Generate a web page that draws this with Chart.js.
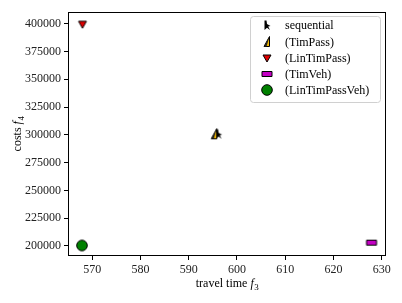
<!DOCTYPE html>
<html><head><meta charset="utf-8">
<script src="https://cdn.jsdelivr.net/npm/chart.js@4"></script>
<style>html,body{margin:0;padding:0;background:#fff}</style>
</head><body>
<canvas id="c" width="402" height="303" style="width:402px;height:303px"></canvas>
<script>
const seriesLabels = ['sequential', '(TimPass)', '(LinTimPass)', '(TimVeh)', '(LinTimPassVeh)'];
const travelTime = [596.2, 595.3, 568.0, 627.9, 567.9];
const costs = [301000, 300500, 399500, 203000, 200500];
const xTicks = [570, 580, 590, 600, 610, 620, 630];
const yTicks = [200000, 225000, 250000, 275000, 300000, 325000, 350000, 375000, 400000];
const xTitle = ['travel time ', 'f', '3'];
const yTitle = ['costs ', 'f', '4'];

const FONT = '"Liberation Serif", "Times New Roman", serif';

function mk(w, h, draw) {
  const c = document.createElement('canvas');
  c.width = w; c.height = h;
  const g = c.getContext('2d');
  g.translate(w / 2, h / 2);
  g.lineWidth = 1; g.strokeStyle = '#000'; g.lineJoin = 'miter';
  draw(g);
  return c;
}
function poly(g, pts) {
  g.beginPath();
  pts.forEach((p, i) => i ? g.lineTo(p[0], p[1]) : g.moveTo(p[0], p[1]));
  g.closePath();
}
const markers = [
  mk(12, 14, g => { poly(g, [[-2.5, -4.5], [-0.5, -4.5], [0, -1], [3.5, 1], [1.2, 1.5], [3, 5], [0, 2.8], [-2.5, 5]]); g.fillStyle = '#000'; g.fill(); }),
  mk(12, 14, g => { poly(g, [[-3, 4.5], [2.5, -5.5], [2.5, 4.5]]); g.fillStyle = '#f2b600'; g.fill(); g.stroke(); poly(g, [[-3, 4.5], [2.5, -5.5], [-0.5, 4.5]]); g.fillStyle = '#222'; g.fill(); }),
  mk(12, 12, g => { poly(g, [[-4, -3], [4, -3], [0, 4]]); g.fillStyle = '#e00000'; g.fill(); g.stroke(); }),
  mk(14, 10, g => { g.beginPath(); g.rect(-5, -2.5, 10, 5); g.fillStyle = '#c400c4'; g.fill(); g.stroke(); }),
  mk(14, 14, g => { g.beginPath(); g.arc(0, 0, 5.3, 0, Math.PI * 2); g.fillStyle = '#008000'; g.fill(); g.stroke(); })
];

const datasets = seriesLabels.map((lab, i) => ({
  label: lab,
  data: [{ x: travelTime[i], y: costs[i] }],
  pointStyle: markers[i],
  pointRadius: 6,
  pointHoverRadius: 6,
  order: seriesLabels.length - i
}));

function drawMath(ctx, parts, x, y, rot) {
  const fonts = ['12px ' + FONT, 'italic 12px ' + FONT, '9px ' + FONT];
  const dys = [0, 0, 2.5];
  let widths = parts.map((t, i) => { ctx.font = fonts[i]; return ctx.measureText(t).width; });
  const total = widths.reduce((a, b) => a + b, 0);
  ctx.save();
  ctx.translate(x, y);
  if (rot) ctx.rotate(-Math.PI / 2);
  ctx.fillStyle = '#000';
  ctx.textBaseline = 'alphabetic';
  ctx.textAlign = 'left';
  let cx = -total / 2;
  parts.forEach((t, i) => { ctx.font = fonts[i]; ctx.fillText(t, cx, dys[i]); cx += widths[i] + (i === 1 ? 0.5 : 0); });
  ctx.restore();
}

const framePlugin = {
  id: 'frame',
  beforeDatasetsDraw(chart) {
    const a = chart.chartArea, ctx = chart.ctx;
    ctx.save();
    ctx.strokeStyle = '#000'; ctx.lineWidth = 1;
    ctx.strokeRect(Math.round(a.left) + 0.5, Math.round(a.top) + 0.5, Math.round(a.right - a.left) - 1, Math.round(a.bottom - a.top) - 1);
    ctx.restore();
  },
  afterDraw(chart) {
    const ctx = chart.ctx;
    drawMath(ctx, xTitle, 227, 287, false);
    drawMath(ctx, yTitle, 21, 134, true);
    ctx.save();
    const bx = 250.5, by = 16.5, bw = 130, bh = 86, r = 3;
    ctx.beginPath();
    ctx.roundRect(bx, by, bw, bh, r);
    ctx.fillStyle = 'rgba(255,255,255,0.85)'; ctx.fill();
    ctx.strokeStyle = '#d0d0d0'; ctx.lineWidth = 1; ctx.stroke();
    const ys = [25, 42, 58, 74, 90];
    ctx.font = '12px ' + FONT;
    ctx.fillStyle = '#000';
    ctx.textBaseline = 'middle';
    chart.data.datasets.forEach((ds, i) => {
      const m = ds.pointStyle;
      ctx.drawImage(m, 267 - m.width / 2, ys[i] - m.height / 2);
      ctx.fillText(ds.label, 285, ys[i] + 0.5);
    });
    ctx.restore();
  }
};

new Chart(document.getElementById('c'), {
  type: 'scatter',
  data: { datasets },
  plugins: [framePlugin],
  options: {
    responsive: false,
    devicePixelRatio: 1,
    animation: false,
    layout: { padding: { left: 0, top: 12, right: 16, bottom: 0 } },
    plugins: { legend: { display: false }, tooltip: { enabled: false } },
    scales: {
      x: {
        type: 'linear', min: 565.0, max: 630.9,
        afterBuildTicks: s => { s.ticks = xTicks.map(v => ({ value: v })); },
        afterFit: s => { s.height = 47; },
        grid: { drawOnChartArea: false, drawTicks: true, tickLength: 4, color: '#000', tickWidth: 1 },
        border: { display: false },
        ticks: { font: { family: FONT, size: 12 }, color: '#222', padding: 3, maxRotation: 0, autoSkip: false }
      },
      y: {
        type: 'linear', min: 191000, max: 410500,
        afterBuildTicks: s => { s.ticks = yTicks.map(v => ({ value: v })); },
        afterFit: s => { s.width = 68; },
        grid: { drawOnChartArea: false, drawTicks: true, tickLength: 4, color: '#000', tickWidth: 1 },
        border: { display: false },
        ticks: { font: { family: FONT, size: 12 }, color: '#222', padding: 3, autoSkip: false, callback: v => String(v) }
      }
    }
  }
});
</script>
</body></html>
